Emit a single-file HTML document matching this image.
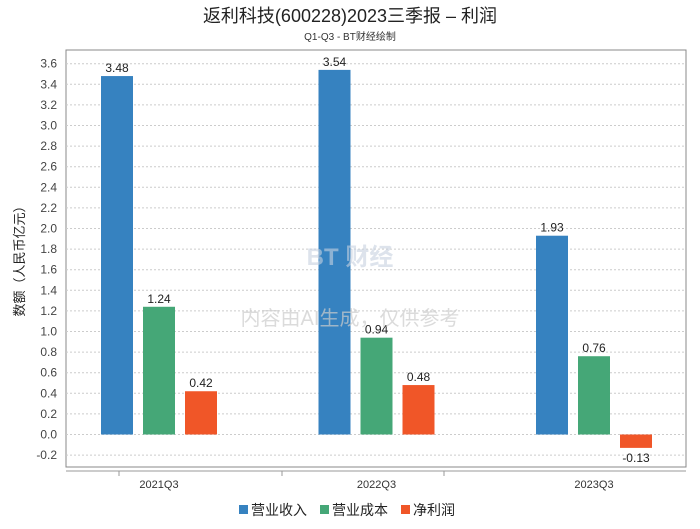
<!DOCTYPE html>
<html><head><meta charset="utf-8"><style>
body{margin:0;background:#fff;}
svg text{font-family:"Liberation Sans","Noto Sans CJK SC",sans-serif;}
</style></head><body>
<svg id="chart" width="700" height="524" xmlns="http://www.w3.org/2000/svg">
<text x="350" y="22" text-anchor="middle" font-size="18" fill="#222">返利科技(600228)2023三季报 – 利润</text>
<text x="350" y="40" text-anchor="middle" font-size="10" fill="#333">Q1-Q3 - BT财经绘制</text>
<rect x="66" y="50" width="620" height="417" fill="none" stroke="#888"/>
<g id="grid"></g><g id="bars"></g>
<text x="350" y="265" text-anchor="middle" font-size="24" font-weight="bold" fill="#c8d2e0" opacity="0.6">BT 财经</text>
<text x="350" y="325" text-anchor="middle" font-size="20" fill="#ccc" opacity="0.7">内容由AI生成，仅供参考</text>
<line x1="66" y1="471" x2="686" y2="471" stroke="#999"/>
<text transform="translate(24,258) rotate(-90)" text-anchor="middle" font-size="13" fill="#222">数额（人民币亿元）</text>
<g>
<rect x="239" y="505" width="9" height="9" fill="#3682c0"/>
<text x="251" y="515" font-size="14" fill="#222">营业收入</text>
<rect x="320" y="505" width="9" height="9" fill="#45a777"/>
<text x="332" y="515" font-size="14" fill="#222">营业成本</text>
<rect x="401" y="505" width="9" height="9" fill="#f05628"/>
<text x="413" y="515" font-size="14" fill="#222">净利润</text>
</g>
</svg>
<script>
const categories=["2021Q3","2022Q3","2023Q3"];
const revenue=[3.48,3.54,1.93];
const cost=[1.24,0.94,0.76];
const profit=[0.42,0.48,-0.13];
const yTicks=[-0.2,0,0.2,0.4,0.6,0.8,1.0,1.2,1.4,1.6,1.8,2.0,2.2,2.4,2.6,2.8,3.0,3.2,3.4,3.6];
const NS="http://www.w3.org/2000/svg";
function y(v){return 434.5-v*103;}
function groupX(i){return 159+i*217.5;}
const tickX=[119,282,444];
const grid=document.getElementById('grid'),bars=document.getElementById('bars');
function mk(tag,attrs,parent){const e=document.createElementNS(NS,tag);for(const k in attrs)e.setAttribute(k,attrs[k]);parent.appendChild(e);return e;}
yTicks.forEach(t=>{
 const l=mk('line',{x1:66,x2:686,y1:y(t),y2:y(t),stroke:'#ccc','stroke-dasharray':'2,2'},grid);
 
 
 const tx=mk('text',{x:57,y:y(t)+4,'text-anchor':'end','font-size':12,fill:'#444'},grid);
 tx.textContent=t.toFixed(1);
 
 
});
const series=[[revenue,'#3682c0',-42,'bar-revenue'],[cost,'#45a777',0,'bar-cost'],[profit,'#f05628',42,'bar-profit']];
categories.forEach((c,i)=>{
 const gx=groupX(i);
 series.forEach(s=>{
  const v=s[0][i];const cx=gx+s[2];
  const top=Math.min(y(v),y(0)),h=Math.abs(y(v)-y(0));
  const r=mk('rect',{x:cx-16,y:top,width:32,height:h,fill:s[1]},bars);
  
  
  const lb=mk('text',{x:cx,y:v>=0?y(v)-4:y(v)+14,'text-anchor':'middle','font-size':12,fill:'#222'},bars);
  lb.textContent=v.toFixed(2);
  
  
 });
 const tk=mk('line',{x1:tickX[i],x2:tickX[i],y1:471,y2:476,stroke:'#999'},bars);
 
 
 const xl=mk('text',{x:gx,y:488,'text-anchor':'middle','font-size':11,fill:'#333'},bars);
 xl.textContent=c;
 
 
});
</script>
</body></html>
